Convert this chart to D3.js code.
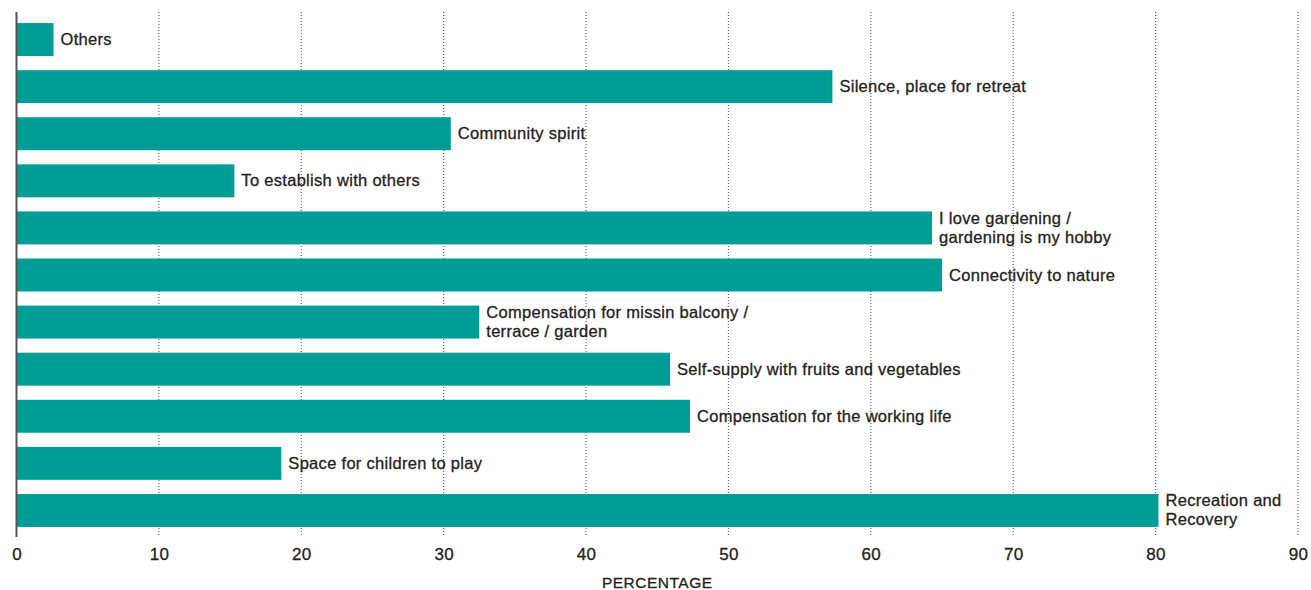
<!DOCTYPE html>
<html>
<head>
<meta charset="utf-8">
<script src="https://cdn.jsdelivr.net/npm/d3@7"></script>
<style>
  body { margin: 0; background: #fff; }
  svg { display: block; font-family: "Liberation Sans", Arial, sans-serif; }
</style>
</head>
<body>
<div id="chart"></div>
<script>
// categories top to bottom, each split in its label lines
const categories = [
  ['Others'],
  ['Silence, place for retreat'],
  ['Community spirit'],
  ['To establish with others'],
  ['I love gardening /', 'gardening is my hobby'],
  ['Connectivity to nature'],
  ['Compensation for missin balcony /', 'terrace / garden'],
  ['Self-supply with fruits and vegetables'],
  ['Compensation for the working life'],
  ['Space for children to play'],
  ['Recreation and', 'Recovery']
];
const values = [2.6, 57.3, 30.5, 15.3, 64.3, 65.0, 32.5, 45.9, 47.3, 18.6, 80.2];
const xTicks = [0, 10, 20, 30, 40, 50, 60, 70, 80, 90];
const xTitle = 'PERCENTAGE';

const width = 1311, height = 590;
const barColor = '#009d96';
const textColor = '#222';

const svg = d3.select('#chart').append('svg')
  .attr('width', width)
  .attr('height', height);

const x = d3.scaleLinear().domain([0, 90]).range([16.5, 1298]);
const y = d3.scaleBand()
  .domain(d3.range(categories.length))
  .range([16, 534])
  .paddingInner(0.3)
  .paddingOuter(0.15);

const gridTop = 12, gridBottom = 537;

// dotted grid lines
svg.append('g')
  .selectAll('line')
  .data(xTicks.slice(1))
  .join('line')
    .attr('x1', d => x(d)).attr('x2', d => x(d))
    .attr('y1', gridTop).attr('y2', gridBottom)
    .attr('stroke', '#666')
    .attr('stroke-width', 1.2)
    .attr('stroke-dasharray', '1,2');

// bars
svg.append('g')
  .selectAll('rect')
  .data(values)
  .join('rect')
    .attr('x', x(0))
    .attr('y', (d, i) => y(i))
    .attr('width', d => x(d) - x(0))
    .attr('height', y.bandwidth())
    .attr('fill', barColor);

// bar labels
const lineH = 19;
const pad = 7;
svg.append('g')
  .selectAll('text')
  .data(values)
  .join('text')
    .attr('x', d => x(d) + pad)
    .attr('y', (d, i) => y(i) + y.bandwidth() / 2)
    .attr('font-size', 16.5)
    .attr('letter-spacing', 0.3)
    .attr('fill', textColor)
    .attr('stroke', textColor)
    .attr('stroke-width', 0.3)
    .each(function(d, i) {
      const lines = categories[i];
      const t = d3.select(this);
      lines.forEach((l, j) => {
        t.append('tspan')
          .attr('x', x(d) + pad)
          .attr('dy', j === 0 ? ((-(lines.length - 1) / 2) * lineH + 5.5) : lineH)
          .text(l);
      });
    });

// vertical axis line
svg.append('line')
  .attr('x1', x(0)).attr('x2', x(0))
  .attr('y1', gridTop).attr('y2', gridBottom)
  .attr('stroke', '#555')
  .attr('stroke-width', 2);

// x axis tick labels
const xAxis = d3.axisBottom(x).tickValues(xTicks).tickSize(0).tickPadding(0);
const gx = svg.append('g')
  .attr('transform', `translate(0,${gridBottom + 18})`)
  .call(xAxis);
gx.select('.domain').remove();
gx.selectAll('text')
  .attr('font-size', 17)
  .attr('font-family', '"Liberation Sans", Arial, sans-serif')
  .attr('letter-spacing', 0.3)
  .attr('fill', textColor)
  .attr('stroke', textColor)
  .attr('stroke-width', 0.3)
  .attr('dy', '0.3em');

svg.append('text')
  .attr('x', (x(0) + x(90)) / 2)
  .attr('y', 588)
  .attr('text-anchor', 'middle')
  .attr('font-size', 15.5)
  .attr('letter-spacing', 0.5)
  .attr('fill', textColor)
  .attr('stroke', textColor)
  .attr('stroke-width', 0.3)
  .text(xTitle);
</script>
</body>
</html>
